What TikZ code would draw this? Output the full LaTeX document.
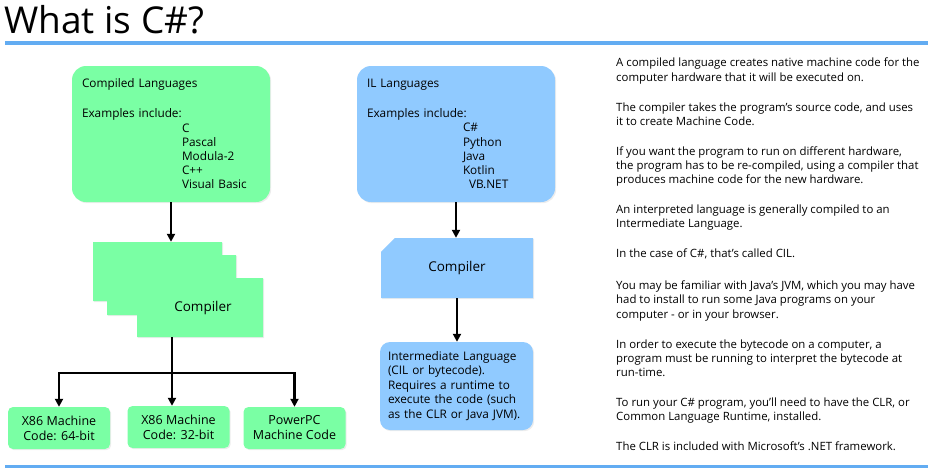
\documentclass[tikz,border=0pt]{standalone}
\usepackage{fontspec}
\setmainfont{Open Sans}
\usetikzlibrary{arrows.meta,shapes.misc,shadows,positioning}
\definecolor{cmpgreen}{RGB}{122,255,164}
\definecolor{ilblue}{RGB}{144,202,255}
\definecolor{ruleblue}{RGB}{98,172,242}

\begin{document}
\begin{tikzpicture}[x=1pt,y=-1pt,>={Triangle[width=8pt,length=8pt]},
  shade box/.style={drop shadow={opacity=0.15,shadow xshift=1.2pt,shadow yshift=-1.2pt}},
  langbox/.style={shade box,rounded corners=14pt,minimum width=198pt,minimum height=136pt,
    text width=178pt,inner xsep=10pt,align=left,font=\fontsize{11.8}{14.2}\selectfont},
  snipbox/.style={shade box,chamfered rectangle,chamfered rectangle corners=north west,
    chamfered rectangle sep=7pt,inner sep=0pt,font=\fontsize{13.5}{15}\selectfont},
  codebox/.style={shade box,fill=cmpgreen,rounded corners=5pt,minimum width=102pt,
    minimum height=42pt,inner sep=0pt,align=center,font=\fontsize{12.5}{15}\selectfont},
  arr/.style={->,line width=2.5pt},
  wire/.style={line width=2.5pt}]
\useasboundingbox (0,0) rectangle (938,474);
%---------------- heading
\node[anchor=base west,inner sep=0pt,font=\fontsize{37}{42}\selectfont] (title) at (4,33) {What is C\#?};
\draw[ruleblue,line width=3.5pt] (5,43) -- (928,43);
\draw[ruleblue,line width=3pt] (5,466) -- (928,466);

%---------------- compiled languages (left)
\node[langbox,fill=cmpgreen] (cl) at (171,134)
{Compiled Languages\\[15.8pt]
Examples include:\\
\hspace*{100pt}C\\
\hspace*{100pt}Pascal\\
\hspace*{100pt}Modula-2\\
\hspace*{100pt}C++\\
\hspace*{100pt}Visual Basic};

% stacked compilers
\node[snipbox,fill=cmpgreen,minimum width=129pt,minimum height=59pt] (cmpA) at (157.5,271.5) {};
\node[snipbox,fill=cmpgreen,minimum width=129pt,minimum height=60pt] (cmpB) at (171.5,285) {};
\node[snipbox,fill=cmpgreen,minimum width=126pt,minimum height=59pt] (cmpC) at (200,307.5) {\hspace*{6pt}Compiler};

% machine code targets
\node[codebox] (x64) at (59,428) {X86 Machine\\Code: 64-bit};
\node[codebox] (x32) at (178.5,427) {X86 Machine\\Code: 32-bit};
\node[codebox] (ppc) at (294.5,428) {PowerPC\\Machine Code};

\coordinate (split) at (172,373);
\draw[arr] (cl.south) -- (cl.south |- cmpA.north);
\draw[wire] (split |- cmpC.south) -- (split);
\draw[arr] (split) -| (x64.north);
\draw[arr] (split) -- (split |- x32.north);
\draw[arr] (split) -| (ppc.north);

%---------------- IL languages (middle)
\node[langbox,fill=ilblue] (il) at (456,134)
{IL Languages\\[15.8pt]
Examples include:\\
\hspace*{96pt}C\#\\
\hspace*{96pt}Python\\
\hspace*{96pt}Java\\
\hspace*{96pt}Kotlin\\
\hspace*{102pt}VB.NET};

\node[snipbox,fill=ilblue,minimum width=152pt,minimum height=60pt] (ilc) at (457,268) {Compiler};

\node[shade box,fill=ilblue,rounded corners=10pt,minimum width=153pt,minimum height=88pt,
  text width=137pt,inner xsep=8pt,align=left,font=\fontsize{11.8}{14.5}\selectfont] (cil) at (456.5,386)
{Intermediate Language\\
(CIL or bytecode).\\
Requires a runtime to\\
execute the code (such\\
as the CLR or Java JVM).};

\draw[arr] (il.south) -- (il.south |- ilc.north);
\draw[arr] (ilc.south) -- (ilc.south |- cil.north);

%---------------- notes (right)
\node[anchor=north west,inner sep=0pt,align=left,font=\fontsize{11.4}{14.2}\selectfont] (notes) at (616,58)
{A compiled language creates native machine code for the\\
computer hardware that it will be executed on.\\[15.8pt]
The compiler takes the program's source code, and uses\\
it to create Machine Code.\\[15.8pt]
If you want the program to run on different hardware,\\
the program has to be re-compiled, using a compiler that\\
produces machine code for the new hardware.\\[15.8pt]
An interpreted language is generally compiled to an\\
Intermediate Language.\\[15.8pt]
In the case of C\#, that's called CIL.\\[17.5pt]
You may be familiar with Java's JVM, which you may have\\
had to install to run some Java programs on your\\
computer - or in your browser.\\[15.8pt]
In order to execute the bytecode on a computer, a\\
program must be running to interpret the bytecode at\\
run-time.\\[15.8pt]
To run your C\# program, you'll need to have the CLR, or\\
Common Language Runtime, installed.\\[15.8pt]
The CLR is included with Microsoft's .NET framework.};
\end{tikzpicture}
\end{document}
